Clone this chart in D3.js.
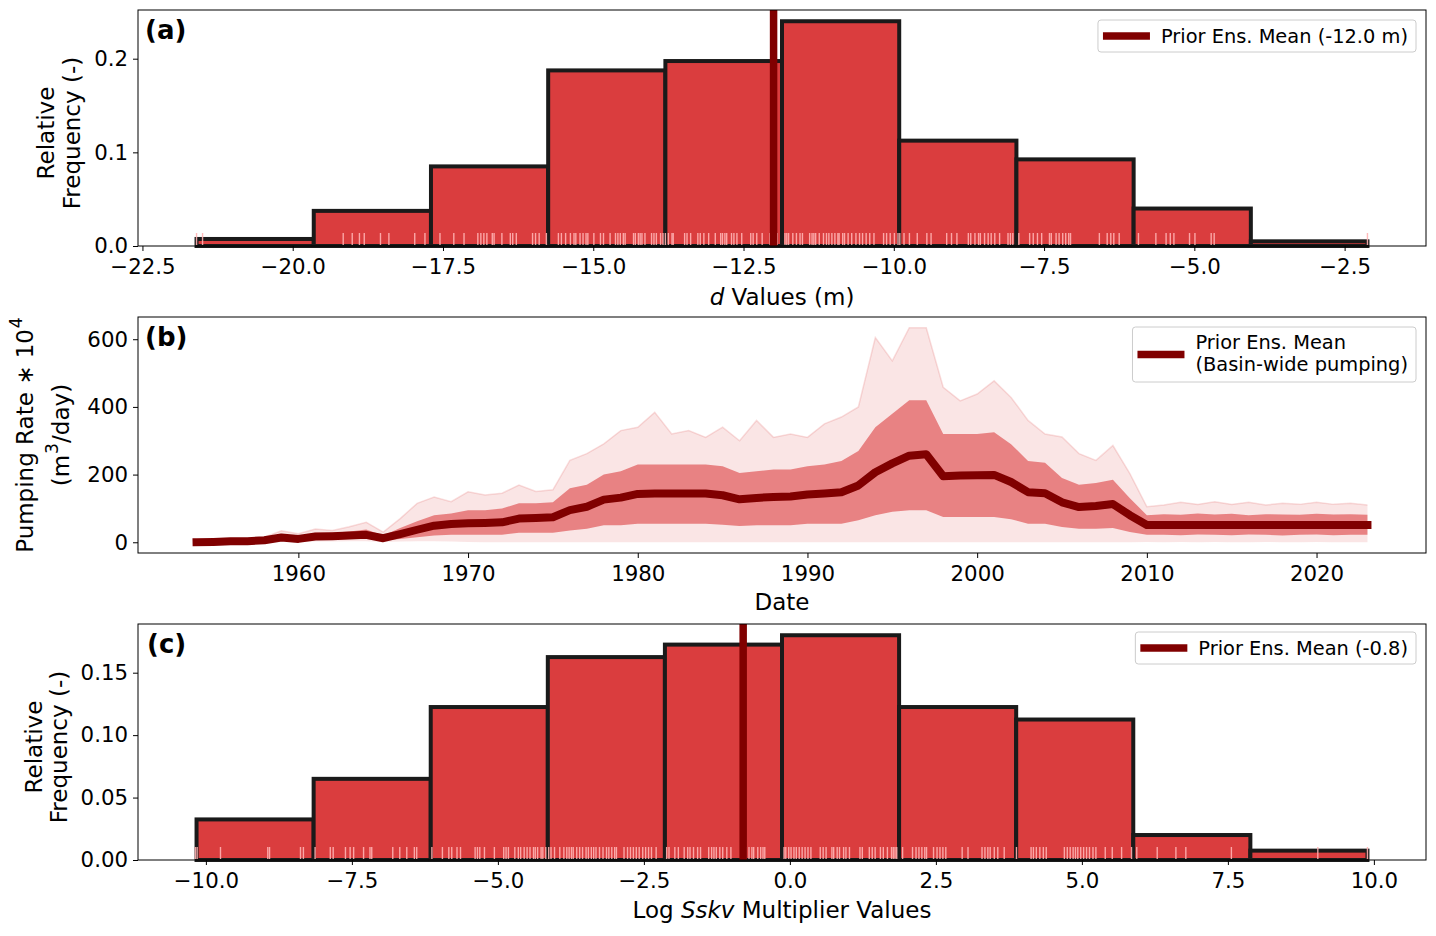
<!DOCTYPE html>
<html>
<head>
<meta charset="utf-8" />
<title>Prior ensemble: d, pumping, Sskv</title>
<script src="https://cdn.jsdelivr.net/npm/d3@7"></script>
<style>
  body { margin: 0; background: #fff; }
  svg { display: block; font-family: "DejaVu Sans", sans-serif; }
</style>
</head>
<body>
<svg id="chart" width="1436" height="936"></svg>
<script>
// ---- panel (a): d values histogram ----
const binEdgesA = [-21.60, -19.65, -17.70, -15.75, -13.80, -11.86, -9.91, -7.96, -6.01, -4.06, -2.12];
const relFreqA = [0.0075, 0.0375, 0.085, 0.1875, 0.1975, 0.24, 0.1125, 0.0925, 0.04, 0.005];
const meanA = -12.0;
const rugA = [
  -21.6, -21.5, -19.16, -19.01, -18.89, -18.81, -18.54, -18.40, -17.97, -17.80,
  -17.55, -17.32, -17.15, -16.92, -16.87, -16.82, -16.77, -16.68, -16.65, -16.52,
  -16.38, -16.34, -16.28, -16.01, -15.96, -15.90, -15.78, -15.58, -15.53, -15.46,
  -15.38, -15.32, -15.29, -15.22, -15.17, -15.12, -15.09, -14.99, -14.88, -14.83,
  -14.72, -14.63, -14.59, -14.55, -14.50, -14.47, -14.33, -14.30, -14.25, -14.22,
  -14.19, -14.14, -14.03, -13.99, -13.95, -13.88, -13.84, -13.80, -13.75, -13.69,
  -13.67, -13.48, -13.44, -13.38, -13.26, -13.22, -13.16, -13.08, -12.97, -12.88,
  -12.85, -12.81, -12.78, -12.70, -12.66, -12.61, -12.53, -12.38, -12.34, -12.28,
  -12.19, -12.06, -12.03, -11.94, -11.81, -11.78, -11.75, -11.68, -11.62, -11.56,
  -11.52, -11.40, -11.36, -11.33, -11.30, -11.24, -11.17, -11.12, -11.08, -11.03,
  -10.98, -10.93, -10.91, -10.85, -10.82, -10.76, -10.70, -10.63, -10.57, -10.52,
  -10.46, -10.40, -10.33, -10.17, -10.12, -10.06, -9.99, -9.93, -9.90, -9.83,
  -9.74, -9.61, -9.45, -9.38, -9.12, -9.04, -8.95, -8.76, -8.72, -8.65,
  -8.59, -8.56, -8.49, -8.43, -8.38, -8.32, -8.24, -8.10, -8.06, -8.02,
  -7.92, -7.74, -7.68, -7.61, -7.54, -7.41, -7.38, -7.30, -7.25, -7.19,
  -7.14, -7.09, -7.06, -6.58, -6.45, -6.39, -6.34, -6.25, -5.93, -5.64,
  -5.47, -5.40, -5.34, -5.08, -4.99, -4.72, -4.67, -2.12
];
const xTicksA = [-22.5, -20, -17.5, -15, -12.5, -10, -7.5, -5, -2.5];
const yTicksA = [0, 0.1, 0.2];

// ---- panel (b): basin-wide pumping ensemble ----
const years = [
  1954, 1955, 1956, 1957, 1958, 1959, 1960, 1961, 1962, 1963,
  1964, 1965, 1966, 1967, 1968, 1969, 1970, 1971, 1972, 1973,
  1974, 1975, 1976, 1977, 1978, 1979, 1980, 1981, 1982, 1983,
  1984, 1985, 1986, 1987, 1988, 1989, 1990, 1991, 1992, 1993,
  1994, 1995, 1996, 1997, 1998, 1999, 2000, 2001, 2002, 2003,
  2004, 2005, 2006, 2007, 2008, 2009, 2010, 2011, 2012, 2013,
  2014, 2015, 2016, 2017, 2018, 2019, 2020, 2021, 2022, 2023
];
const ensMean = [
  0, 1, 3, 3, 6, 14, 10, 17, 18, 20,
  22, 12, 24, 37, 49, 54, 56, 57, 59, 70,
  72, 74, 95, 105, 126, 132, 143, 144, 144, 144,
  144, 139, 127, 131, 134, 135, 141, 144, 148, 168,
  207, 233, 256, 260, 195, 197, 198, 199, 178, 148,
  145, 118, 104, 107, 113, 80, 51, 51, 51, 51,
  51, 51, 51, 51, 51, 51, 51, 51, 51, 51
];
const ensMax = [
  4, 6, 8, 8, 15, 34, 25, 39, 35, 46,
  59, 30, 70, 115, 134, 120, 149, 140, 145, 169,
  150, 155, 242, 262, 291, 330, 340, 384, 320, 330,
  310, 340, 300, 360, 310, 320, 310, 350, 370, 400,
  605, 536, 634, 634, 458, 418, 438, 477, 428, 360,
  320, 311, 262, 242, 286, 203, 105, 110, 118, 112,
  120, 112, 118, 110, 115, 112, 118, 112, 115, 110
];
const ensHigh = [
  2, 3, 5, 5, 10, 24, 18, 28, 28, 32,
  38, 20, 42, 62, 80, 85, 95, 95, 100, 115,
  115, 118, 160, 170, 200, 210, 230, 230, 230, 230,
  230, 225, 205, 210, 215, 215, 225, 230, 240, 270,
  340, 380, 420, 420, 320, 320, 320, 325, 290, 240,
  235, 190, 170, 175, 185, 130, 80, 83, 81, 85,
  82, 84, 80, 83, 82, 81, 84, 82, 83, 81
];
const ensLow = [
  0, 0, 1, 1, 3, 6, 5, 8, 9, 10,
  10, 5, 10, 15, 20, 22, 22, 22, 22, 28,
  28, 28, 35, 40, 50, 50, 55, 55, 55, 55,
  55, 52, 48, 50, 50, 50, 55, 55, 55, 65,
  80, 90, 95, 95, 75, 75, 75, 75, 68, 55,
  55, 45, 40, 40, 42, 30, 22, 22, 21, 23,
  22, 21, 23, 22, 20, 22, 23, 21, 22, 22
];
const ensMin = [
  0, 0, 0, 0, 0, 2, 1, 2, 2, 3,
  3, 1, 2, 3, 3, 2, 1, 0, 0, 0,
  0, 0, 0, 0, 0, 0, 0, 0, 0, 0,
  0, 0, 0, 0, 0, 0, 0, 0, 0, 0,
  0, 0, 0, 0, 0, 0, 0, 0, 0, 0,
  0, 0, 0, 0, 0, 0, 1, 0, 1, 0,
  1, 0, 0, 1, 0, 0, 1, 0, 0, 0
];
const xTicksB = [1960, 1970, 1980, 1990, 2000, 2010, 2020];
const yTicksB = [0, 200, 400, 600];

// ---- panel (c): log Sskv multiplier histogram ----
const binEdgesC = [-10.16, -8.155, -6.15, -4.145, -2.14, -0.135, 1.87, 3.875, 5.88, 7.885, 9.89];
const relFreqC = [0.0325, 0.065, 0.1225, 0.1625, 0.1725, 0.18, 0.1225, 0.1125, 0.02, 0.0075];
const meanC = -0.8;
const rugC = [
  -10.18, -10.15, -9.75, -8.94, -8.91, -8.38, -8.33, -8.13, -7.87, -7.82,
  -7.61, -7.53, -7.47, -7.30, -7.19, -7.16, -6.80, -6.68, -6.56, -6.43,
  -6.39, -6.13, -5.95, -5.84, -5.79, -5.70, -5.64, -5.39, -5.35, -5.31,
  -5.23, -5.06, -4.90, -4.86, -4.82, -4.71, -4.65, -4.61, -4.55, -4.50,
  -4.45, -4.39, -4.36, -4.32, -4.26, -4.23, -4.18, -4.13, -4.09, -4.03,
  -3.94, -3.87, -3.82, -3.78, -3.74, -3.71, -3.65, -3.60, -3.55, -3.49,
  -3.45, -3.40, -3.36, -3.32, -3.26, -3.20, -3.14, -3.10, -3.05, -3.00,
  -2.97, -2.84, -2.78, -2.73, -2.68, -2.63, -2.58, -2.52, -2.47, -2.42,
  -2.37, -2.29, -2.11, -2.07, -1.97, -1.91, -1.81, -1.75, -1.71, -1.65,
  -1.58, -1.53, -1.39, -1.34, -1.30, -1.26, -1.20, -1.15, -1.08, -1.01,
  -0.75, -0.70, -0.65, -0.62, -0.55, -0.50, -0.46, -0.43, -0.10, -0.07,
  -0.02, 0.02, 0.07, 0.11, 0.16, 0.21, 0.26, 0.31, 0.36, 0.52,
  0.57, 0.62, 0.72, 0.75, 0.81, 0.85, 0.92, 0.96, 1.02, 1.20,
  1.24, 1.36, 1.41, 1.46, 1.55, 1.60, 1.67, 1.74, 1.77, 1.80,
  1.83, 1.93, 2.10, 2.16, 2.21, 2.26, 2.31, 2.34, 2.46, 2.52,
  2.57, 2.62, 2.67, 2.95, 3.05, 3.29, 3.34, 3.39, 3.43, 3.50,
  3.56, 3.67, 3.88, 4.13, 4.17, 4.22, 4.28, 4.34, 4.39, 4.70,
  4.75, 4.80, 4.85, 4.89, 4.93, 4.98, 5.03, 5.08, 5.13, 5.19,
  5.24, 5.40, 5.52, 5.68, 5.85, 5.94, 6.29, 6.61, 6.78, 7.56,
  9.04, 9.89
];
const xTicksC = [-10, -7.5, -5, -2.5, 0, 2.5, 5, 7.5, 10];
const yTicksC = [0, 0.05, 0.10, 0.15];

// ---- layout ----
const svg = d3.select("#chart");
const plotLeft = 138, plotRight = 1426;
const barFill = "#da3d3e", barEdge = "#1a1a1a", meanColor = "#800000";
const tickFont = 21.3, labelFont = 23, legendFont = 19.4;

function margin5(lo, hi) {
  const p = 0.05 * (hi - lo);
  return [lo - p, hi + p];
}

function axes(g, x, y, top, bottom, xTicks, xFmt, yTicks, yFmt) {
  const xa = g.append("g").attr("transform", `translate(0,${bottom})`)
    .call(d3.axisBottom(x).tickValues(xTicks).tickFormat(xFmt).tickSize(5).tickPadding(7).tickSizeOuter(0));
  const ya = g.append("g").attr("transform", `translate(${plotLeft},0)`)
    .call(d3.axisLeft(y).tickValues(yTicks).tickFormat(yFmt).tickSize(5).tickPadding(5).tickSizeOuter(0));
  [xa, ya].forEach(a => {
    a.select(".domain").remove();
    a.selectAll("text").attr("font-size", tickFont).attr("font-family", "DejaVu Sans").attr("fill", "#000");
    a.selectAll("line").attr("stroke", "#000");
  });
  xa.selectAll("text").attr("dy", "0.76em");
}

function spines(g, top, bottom) {
  g.append("rect")
    .attr("x", plotLeft).attr("y", top)
    .attr("width", plotRight - plotLeft).attr("height", bottom - top)
    .attr("fill", "none").attr("stroke", "#000").attr("stroke-width", 1);
}

function legend(g, yTop, lines, boxH) {
  const lg = g.append("g");
  const txt = lg.append("g");
  lines.forEach((s, i) => {
    txt.append("text").attr("x", 0)
      .attr("y", lines.length === 1 ? boxH / 2 + 7 : 22 + i * 22)
      .attr("font-size", legendFont).text(s);
  });
  const tw = txt.node().getBBox().width;
  const boxW = 5 + 47 + 11 + tw + 8;
  const bx = plotRight - 10 - boxW;
  txt.attr("transform", `translate(${bx + 63},${yTop})`);
  lg.insert("rect", ":first-child")
    .attr("x", bx).attr("y", yTop).attr("width", boxW).attr("height", boxH)
    .attr("rx", 3).attr("fill", "#fff").attr("fill-opacity", 0.8)
    .attr("stroke", "#cccccc").attr("stroke-width", 1);
  lg.append("line")
    .attr("x1", bx + 5).attr("x2", bx + 52)
    .attr("y1", yTop + boxH / 2).attr("y2", yTop + boxH / 2)
    .attr("stroke", meanColor).attr("stroke-width", 7.5);
}

function panelLabel(g, x, y, s) {
  g.append("text").attr("x", x).attr("y", y).attr("font-size", 26)
    .attr("font-weight", "bold").text(s);
}

function yLabel(g, cx, cy, parts) {
  const t = g.append("text")
    .attr("transform", `translate(${cx},${cy}) rotate(-90)`)
    .attr("text-anchor", "middle").attr("dominant-baseline", "central")
    .attr("font-size", labelFont);
  parts.forEach(p => {
    const ts = t.append("tspan").text(p.s);
    if (p.sup) ts.attr("dy", "-0.5em").attr("dx", "0.05em").attr("font-size", "0.75em");
    if (p.after) ts.attr("dy", "0.38em");
  });
}

function xLabel(g, y, parts) {
  const t = g.append("text").attr("x", (plotLeft + plotRight) / 2).attr("y", y)
    .attr("text-anchor", "middle").attr("font-size", labelFont);
  parts.forEach(p => {
    const ts = t.append("tspan").text(p.s);
    if (p.it) ts.attr("font-style", "italic");
  });
}

function histPanel(top, bottom, edges, freq, rug, mean, xTicks, yTicks, yFmt) {
  const g = svg.append("g");
  const x = d3.scaleLinear().domain(margin5(edges[0], edges[edges.length - 1])).range([plotLeft, plotRight]);
  const y = d3.scaleLinear().domain([0, d3.max(freq) * 1.05]).range([bottom, top]);
  const bars = freq.map((f, i) => ({ x0: edges[i], x1: edges[i + 1], f }));
  g.append("g").selectAll("rect").data(bars).join("rect")
    .attr("x", d => x(d.x0)).attr("width", d => x(d.x1) - x(d.x0))
    .attr("y", d => y(d.f)).attr("height", d => y(0) - y(d.f))
    .attr("fill", barFill).attr("stroke", barEdge).attr("stroke-width", 4);
  const rugH = 0.055 * (bottom - top);
  g.append("g").selectAll("line").data(rug).join("line")
    .attr("x1", d => x(d)).attr("x2", d => x(d))
    .attr("y1", bottom - 1).attr("y2", bottom - rugH)
    .attr("stroke", "#ffb3b3").attr("stroke-opacity", 0.9).attr("stroke-width", 1.4);
  g.append("line")
    .attr("x1", x(mean)).attr("x2", x(mean)).attr("y1", top).attr("y2", bottom)
    .attr("stroke", meanColor).attr("stroke-width", 7.5);
  axes(g, x, y, top, bottom, xTicks, d3.format(".1f"), yTicks, yFmt);
  spines(g, top, bottom);
  return g;
}

// (a)
const topA = 10, botA = 246;
const gA = histPanel(topA, botA, binEdgesA, relFreqA, rugA, meanA, xTicksA, yTicksA, d3.format(".1f"));
legend(gA, topA + 10, ["Prior Ens. Mean (-12.0 m)"], 32);
panelLabel(gA, 145, 39, "(a)");
xLabel(gA, botA + 59, [{ s: "d", it: true }, { s: " Values (m)" }]);
yLabel(gA, 46, (topA + botA) / 2 + 5, [{ s: "Relative" }]);
yLabel(gA, 72, (topA + botA) / 2 + 5, [{ s: "Frequency (-)" }]);

// (b)
const topB = 317, botB = 553;
const gB = svg.append("g");
const xB = d3.scaleLinear().domain(margin5(years[0], years[years.length - 1])).range([plotLeft, plotRight]);
const yB = d3.scaleLinear().domain(margin5(d3.min(ensMin), d3.max(ensMax))).range([botB, topB]);
const rows = years.map((yr, i) => ({ yr, mn: ensMin[i], lo: ensLow[i], hi: ensHigh[i], mx: ensMax[i], m: ensMean[i] }));
gB.append("path").datum(rows)
  .attr("d", d3.area().x(d => xB(d.yr)).y0(d => yB(d.mn)).y1(d => yB(d.mx)))
  .attr("fill", "#d62728").attr("fill-opacity", 0.12);
gB.append("path").datum(rows)
  .attr("d", d3.line().x(d => xB(d.yr)).y(d => yB(d.mx)))
  .attr("fill", "none").attr("stroke", "#d62728").attr("stroke-opacity", 0.15).attr("stroke-width", 1.5);
gB.append("path").datum(rows)
  .attr("d", d3.area().x(d => xB(d.yr)).y0(d => yB(d.lo)).y1(d => yB(d.hi)))
  .attr("fill", "#d62728").attr("fill-opacity", 0.52);
gB.append("path").datum(rows)
  .attr("d", d3.line().x(d => xB(d.yr)).y(d => yB(d.m)))
  .attr("fill", "none").attr("stroke", meanColor).attr("stroke-width", 8)
  .attr("stroke-linejoin", "round").attr("stroke-linecap", "square");
axes(gB, xB, yB, topB, botB, xTicksB, d3.format("d"), yTicksB, d3.format("d"));
spines(gB, topB, botB);
legend(gB, topB + 10, ["Prior Ens. Mean", "(Basin-wide pumping)"], 55);
panelLabel(gB, 145, 346, "(b)");
xLabel(gB, botB + 57, [{ s: "Date" }]);
yLabel(gB, 25, (topB + botB) / 2, [{ s: "Pumping Rate \u2217 10" }, { s: "4", sup: true }]);
yLabel(gB, 61, (topB + botB) / 2, [{ s: "(m" }, { s: "3", sup: true }, { s: "/day)", after: true }]);

// (c)
const topC = 624, botC = 860;
const gC = histPanel(topC, botC, binEdgesC, relFreqC, rugC, meanC, xTicksC, yTicksC, d3.format(".2f"));
legend(gC, topC + 8, ["Prior Ens. Mean (-0.8)"], 32);
panelLabel(gC, 147, 653, "(c)");
xLabel(gC, botC + 58, [{ s: "Log " }, { s: "Sskv", it: true }, { s: " Multiplier Values" }]);
yLabel(gC, 34, (topC + botC) / 2 + 5, [{ s: "Relative" }]);
yLabel(gC, 59, (topC + botC) / 2 + 5, [{ s: "Frequency (-)" }]);
</script>
</body>
</html>
